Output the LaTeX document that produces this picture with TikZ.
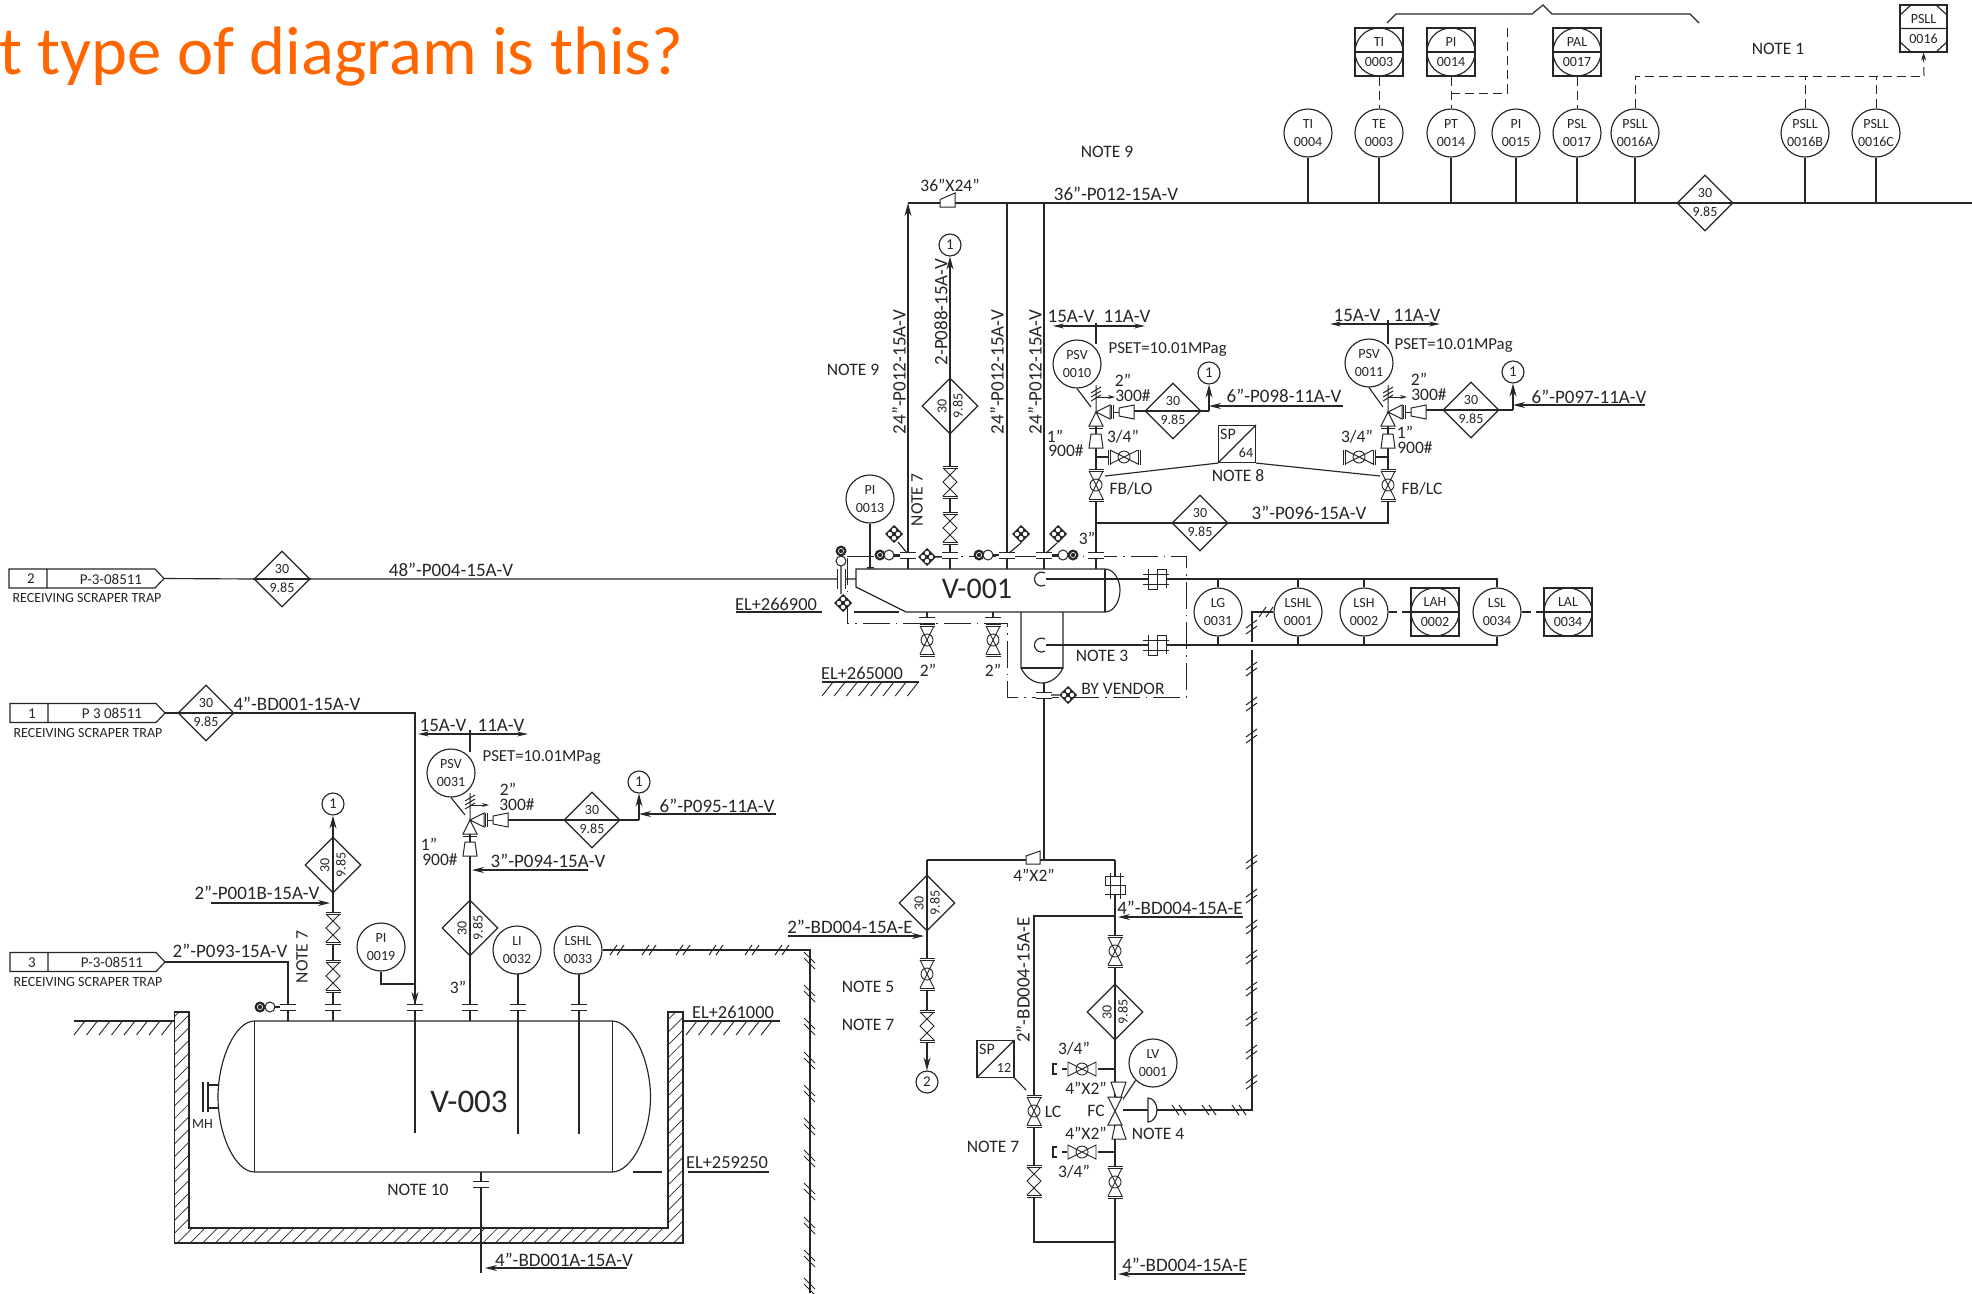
\documentclass[tikz,border=0pt]{standalone}
\usepackage{fontspec}
\setmainfont{Carlito}
\usetikzlibrary{arrows.meta,shapes.geometric,patterns.meta}
\definecolor{ink}{HTML}{262626}
\definecolor{titleor}{HTML}{FF6600}
\newcount\tcnt
\newcommand\T[3][]{\global\advance\tcnt by 1 \node[tx,#1] (t\the\tcnt) at (#2) {#3};}
\newcommand\DiaH[3]{\node[dmd] (#1) at (#2,#3) {};\draw (#1.west)--(#1.east);
  \T[font=\fontsize{14}{16}\selectfont]{#2,#3-10}{30}\T[font=\fontsize{14}{16}\selectfont]{#2,#3+9}{9.85}}
\newcommand\DiaV[3]{\node[dmd] (#1) at (#2,#3) {};\draw (#1.north)--(#1.south);
  \T[font=\fontsize{14}{16}\selectfont,rotate=90]{#2-8,#3}{30}\T[font=\fontsize{14}{16}\selectfont,rotate=90]{#2+8,#3}{9.85}}
\newcommand\PN[5]{\node[draw,fill=white,minimum size=48pt,inner sep=0pt] (#1) at (#2,#3) {};
  \node[draw,circle,minimum size=48pt,inner sep=0pt] (#1c) at (#2,#3) {};\draw (#1.west)--(#1.east);
  \T[font=\fontsize{14}{15}\selectfont]{#2,#3-10}{#4}\T[font=\fontsize{14}{15}\selectfont]{#2,#3+10}{#5}}
\newcommand\TG[6]{\draw[fill=white] (#2,#3)--(#2+146,#3)--(#2+155,#3+9.5)--(#2+146,#3+19)--(#2,#3+19)--cycle (#2+38,#3)--(#2+38,#3+19);
  \coordinate (#1) at (#2+155,#3+9.5);
  \T[font=\fontsize{15}{17}\selectfont]{#2+22,#3+10}{#4}\T[font=\fontsize{15}{17}\selectfont]{#2+102,#3+10}{#5}
  \T[font=\fontsize{14}{15}\selectfont]{#2+78,#3+29}{#6}}
\newcommand\GN[4]{\foreach \gi in {1,...,#3}{\draw[line width=.9pt] ({#1+(\gi-1)*#4},#2+14)--++(11,-14);}}
\tikzset{
  tx/.style={inner sep=0pt,text=ink,font=\fontsize{17.5}{20}\selectfont},
  pl/.style={font=\fontsize{19}{21}\selectfont},
  ps/.style={font=\fontsize{16.8}{20}\selectfont},
  dmd/.style={diamond,draw,fill=white,aspect=1,minimum width=56pt,minimum height=56pt,inner sep=0pt},
  bub/.style={circle,draw,fill=white,minimum size=48pt,inner sep=0pt,align=center,text=ink,font=\fontsize{14}{18}\selectfont},
  refc/.style={circle,draw,fill=white,minimum size=22pt,inner sep=0pt,text=ink,font=\fontsize{15}{17}\selectfont},
  sta/.style={-{Stealth[length=13pt,width=7pt]}},
  dashline/.style={dash pattern=on 9pt off 5pt,line width=1pt},
  ddot/.style={dash pattern=on 27pt off 6pt on 1.5pt off 6pt,line width=.9pt},
  vb/.pic={\fill[white] (-7,-16) rectangle (7,16);
    \draw[line width=.85pt] (-7.5,-16)--(7.5,-16) (-7.5,-14)--(7.5,-14) (-7.5,16)--(7.5,16) (-7.5,14)--(7.5,14);
    \draw[line width=.9pt] (-7,-14)--(7,14) (7,-14)--(-7,14) (0,0) circle[radius=6];},
  vp/.pic={\fill[white] (-7,-16) rectangle (7,16);
    \draw[line width=.85pt] (-7.5,-16)--(7.5,-16) (-7.5,-14)--(7.5,-14) (-7.5,16)--(7.5,16) (-7.5,14)--(7.5,14);
    \draw[line width=.9pt] (-7,-14)--(7,0)--(-7,14) (7,-14)--(-7,0)--(7,14);},
  hb/.pic={\fill[white] (-14,-7) rectangle (14,7);
    \draw[line width=.9pt] (-14,-7)--(14,7)--(14,-7)--(-14,7)--cycle (0,0) circle[radius=6];},
  fl/.pic={\fill[white] (-8,-3) rectangle (8,3);\draw[line width=1pt] (-8,-3)--(8,-3) (-8,3)--(8,3);},
  flv/.pic={\fill[white] (-3,-10) rectangle (5,10);\draw[line width=1pt] (-4,-10)--(-4,10) (4,-10)--(4,10);},
  cvalve/.pic={\fill[white] (-8,-14) rectangle (8,14);\draw[line width=1pt] (-7,-14)--(7,-14)--(-7,14)--(7,14)--cycle;},
  psvh/.pic={\draw[line width=1pt] (0,-27)--(0,0) (-5,-19)--(5,-25) (-5,-15)--(5,-21) (-5,-11)--(5,-17);
    \draw[-{Stealth[length=7pt,width=4pt]},line width=.9pt] (1,-15)--(19,-15);
    \draw[line width=1pt,fill=white] (0,0)--(-7,14)--(7,14)--cycle (0,0)--(14,-7)--(14,7)--cycle;
    \draw[line width=1pt] (-7,16)--(7,16) (15,-7)--(15,7) (17.5,-7)--(17.5,7) (17.5,0)--(23,0) (0,16)--(0,22);
    \draw[line width=1pt,fill=white] (23,-4)--(23,4)--(38,7)--(38,-7)--cycle (-5,22)--(5,22)--(7,36)--(-7,36)--cycle;},
  xd/.pic={\fill[ink] (0,-9)--(9,0)--(0,9)--(-9,0)--cycle;
    \foreach \a/\b in {0/-4,4/0,0/4,-4/0}{\fill[white] (\a,\b) circle[radius=2.2];}},
  oo/.pic={\fill[ink] (0,0) circle[radius=5.5];\draw[white,line width=.6pt] (0,0) circle[radius=2.6];},
  oe/.pic={\draw[line width=1pt,fill=white] (0,0) circle[radius=5];},
  dbl/.pic={\fill[white] (-9,-8) rectangle (9,8);
    \draw[line width=.9pt] (-14,-5)--(12,-5) (-14,5)--(12,5) (-9,-10)--(-9,10)--(0,10)--(0,-10)--(9,-10)--(9,9);},
  tv/.pic={\draw[line width=1pt] (-6,-4)--(5,7) (-6,-10)--(5,1);},
  tv2/.pic={\draw[line width=1pt] (-6,5)--(5,-3) (-6,11)--(5,3);},
  th/.pic={\draw[line width=1pt] (-8,5)--(-1,-5) (-1,5)--(6,-5);},
  tb/.pic={\draw[line width=1pt] (-6,-5)--(1,5) (1,-5)--(8,5);},
}
\begin{document}
\begin{tikzpicture}[x=1pt,y=-1pt,line width=1.15pt,draw=ink]
\useasboundingbox (0,0) rectangle (1972,1293);
\fill[white] (0,0) rectangle (1972,1293);
\T[font=\fontsize{68.5}{72}\selectfont,text=titleor,anchor=base east]{684,74}{t type of diagram is this?}

% ---- vessels and pit
\node[inner sep=0pt,text=ink,font=\fontsize{33}{36}\selectfont] (V3) at (469,1102) {V-003};
\fill[pattern={Lines[angle=45,distance=9pt,line width=.7pt]},pattern color=ink] (174.5,1012)--(174.5,1243)--(683,1243)--(683,1012)--(668,1012)--(668,1228)--(189,1228)--(189,1012)--cycle;
\draw (174.5,1012)--(174.5,1243)--(683,1243)--(683,1012)--(668,1012)--(668,1228)--(189,1228)--(189,1012)--cycle;
\draw (254.6,1021) .. controls (235,1021) and (218,1060) .. (218,1097) .. controls (218,1134) and (235,1172) .. (254.6,1172) -- (612,1172) .. controls (632,1172) and (650.5,1134) .. (650.5,1097) .. controls (650.5,1060) and (632,1021) .. (612,1021) -- cycle;
\draw[line width=1pt] (254.6,1021)--(254.6,1172) (612,1021)--(612,1172);
\draw (218,1085)--(208,1085)--(208,1108)--(218,1108) (203,1082)--(203,1112) (208,1082)--(208,1112);
\T[font=\fontsize{14}{16}\selectfont]{202.5,1124}{MH}

\draw[fill=white] (1021,612)--(1021,668) .. controls (1026,678) and (1034,683) .. (1042,683) .. controls (1050,683) and (1058,678) .. (1063,668) -- (1063,612);
\draw (1021,668)--(1063,668);
\draw[fill=white] (856,569)--(1105,569) .. controls (1114,569) and (1120,580) .. (1120,590) .. controls (1120,601) and (1114,612) .. (1105,612) -- (906,612) -- (856,587) -- cycle;
\draw (1105,569)--(1105,612);
\node[inner sep=0pt,text=ink,font=\fontsize{30}{34}\selectfont] (V1) at (977,589) {V-001};

% ---- dash-dot boundary
\draw[ddot] (847,556)--(1186,556)--(1186,697)--(1007,697)--(1007,623)--(847,623)--cycle;

% ---- nodes
\node[bub] (TI4) at (1308,133) {TI\\0004};
\node[bub] (TE3) at (1379,133) {TE\\0003};
\node[bub] (PT14) at (1451,133) {PT\\0014};
\node[bub] (PI15) at (1516,133) {PI\\0015};
\node[bub] (PSL17) at (1577,133) {PSL\\0017};
\node[bub] (PSLLa) at (1635,133) {PSLL\\0016A};
\node[bub] (PSLLb) at (1805,133) {PSLL\\0016B};
\node[bub] (PSLLc) at (1876,133) {PSLL\\0016C};
\PN{pTI}{1379}{52}{TI}{0003}
\PN{pPI}{1451}{52}{PI}{0014}
\PN{pPAL}{1577}{52}{PAL}{0017}
\node[draw,fill=white,minimum size=47pt,inner sep=0pt] (pPSLL) at (1923.5,28.5) {};
\draw (pPSLL.west)--(pPSLL.east) (1900,15)--(1911,5) (1936,5)--(1947,15) (1900,42)--(1911,52) (1936,52)--(1947,42);
\T[font=\fontsize{14}{15}\selectfont]{1923.5,19}{PSLL}\T[font=\fontsize{14}{15}\selectfont]{1923.5,39}{0016}
\DiaH{dHead}{1705}{203}
\DiaV{dP88}{950}{406}
\DiaV{dV3a}{333}{865}
\DiaV{dV3b}{470}{928}
\DiaV{dBD}{927}{903}
\DiaV{dLV}{1115}{1012}
\DiaH{dTag2}{282}{579}
\DiaH{dTag1}{206}{713}
\DiaH{dPSV10}{1173}{411}
\DiaH{dPSV11}{1471}{410}
\DiaH{dPSV31}{592}{820}
\DiaH{d96}{1200}{523}
\node[refc] (r88) at (950,245) {1};
\node[refc] (r10) at (1209,373) {1};
\node[refc] (r11) at (1513,372) {1};
\node[refc] (r31) at (639,782) {1};
\node[refc] (rV3) at (333,804) {1};
\node[refc] (r2) at (927,1082) {2};
\node[bub] (PI13) at (870,499) {PI\\0013};
\node[bub] (PSV10) at (1077,364) {PSV\\0010};
\node[bub] (PSV11) at (1369,363) {PSV\\0011};
\node[bub] (PSV31) at (451,773) {PSV\\0031};
\node[bub] (PI19) at (381,947) {PI\\0019};
\node[bub] (LI32) at (517,950) {LI\\0032};
\node[bub] (LSHL33) at (578,950) {LSHL\\0033};
\node[bub] (LV1) at (1153,1063) {LV\\0001};
\node[bub] (LG) at (1218,612) {LG\\0031};
\node[bub] (LSHL1) at (1298,612) {LSHL\\0001};
\node[bub] (LSH2) at (1364,612) {LSH\\0002};
\PN{pLAH}{1435}{612}{LAH}{0002}
\node[bub] (LSL) at (1497,612) {LSL\\0034};
\PN{pLAL}{1568}{612}{LAL}{0034}
\node[draw,minimum size=37pt,inner sep=0pt] (SP64) at (1237,444) {};
\node[draw,minimum size=37pt,inner sep=0pt] (SP12) at (995.5,1059) {};
\draw (SP64.south west)--(SP64.north east) (SP12.south west)--(SP12.north east);
\T[font=\fontsize{16}{18}\selectfont]{1228,434}{SP}\T[font=\fontsize{14}{16}\selectfont]{1246,453}{64}
\T[font=\fontsize{16}{18}\selectfont]{987,1049}{SP}\T[font=\fontsize{14}{16}\selectfont]{1004,1068}{12}

% ---- coordinates
\coordinate (hL) at (908,203);\coordinate (hR) at (1972,203);
\coordinate (h7) at (1007,203);\coordinate (h4) at (1044,203);
\coordinate (n9) at (908,569);\coordinate (n7) at (1007,569);\coordinate (n4) at (1044,569);
\coordinate (j10) at (1096,412);\coordinate (j11) at (1388,412);\coordinate (j31) at (470,820);
\coordinate (nP) at (950,569);\coordinate (n96) at (1096,569);\coordinate (jj96) at (1096,523);\coordinate (e96) at (1388,523);
\coordinate (inL) at (856,579);\coordinate (lev1) at (1046,579);\coordinate (lev2) at (1046,645);
\coordinate (cR) at (1115,860);\coordinate (cL) at (927,860);\coordinate (cM) at (1044,860);\coordinate (bootB) at (1044,683);

% ---- pipes
\TG{tg2}{9}{569}{2}{P-3-08511}{RECEIVING SCRAPER TRAP}
\TG{tg1}{10}{703.5}{1}{P 3 08511}{RECEIVING SCRAPER TRAP}
\TG{tg3}{10}{952.5}{3}{P-3-08511}{RECEIVING SCRAPER TRAP}
\draw (hL)--(dHead.west) (dHead.east)--(hR);
\draw[sta] (n9)--(hL);
\draw (h7)--(n7) (h4)--(n4);
\foreach \n in {TI4,TE3,PT14,PI15,PSL17,PSLLa,PSLLb,PSLLc}{\draw (\n.south)--(\n.south|-hL);}
\draw[dashline] (pTI.south)--(TE3.north);
\draw[dashline] (pPI.south)--(PT14.north);
\draw[dashline] (pPAL.south)--(PSL17.north);
\draw[dashline] (1451,93)--(1507,93)--(1507,23);
\draw (1387,23)--(1396,14)--(1532,14)--(1543,5)--(1552,14)--(1690,14)--(1699,23);
\draw[dashline] (PSLLa.north)--(1635,76)--(1924,76);
\draw[dashline] (PSLLb.north)--(1805,76);
\draw[dashline] (PSLLc.north)--(1876,76);
\draw[dashline,-{Stealth[length=8pt,width=5pt]}] (1924,76)--(pPSLL.south);
\draw (dP88.south)--(nP);
\draw[sta] (dP88.north)--(r88.south);
\draw (PI13.south)--(870,569);
\draw[line width=1pt] (867,569)--(867,567)--(873,567)--(873,569);
\draw (tg2)--(dTag2.west) (dTag2.east)--(837,579) (845,579)--(inL);
% PSV 10
\draw (j10)--(n96);
\draw (jj96)--(d96.west) (d96.east)--(e96)--(j11);
\draw (1134,411)--(dPSV10.west) (dPSV10.east)--(1209,411);
\draw[sta] (1209,411)--(r10.south);
\draw[-{Stealth[length=12pt,width=6pt]}] (1343,406)--(1209,406);
\draw (PSV10.south)--(1091,407);
\draw (1096,323)--(1096,344);
\draw[{Stealth[length=11pt,width=5pt]}-{Stealth[length=11pt,width=5pt]}] (1053,326)--(1145,326);
\draw (1096,457)--(1108,457);
\draw (1105,476)--(SP64.south west) (SP64.south east)--(1380,476);
% PSV 11
\draw (1426,410)--(dPSV11.west) (dPSV11.east)--(1513,410);
\draw[sta] (1513,410)--(r11.south);
\draw[-{Stealth[length=12pt,width=6pt]}] (1645,405)--(1513,405);
\draw (PSV11.south)--(1383,407);
\draw (1388,320)--(1388,344);
\draw[{Stealth[length=11pt,width=5pt]}-{Stealth[length=11pt,width=5pt]}] (1330,324)--(1440,324);
\draw (1388,457)--(1375,457);
% V-001 bottom and level piping
\draw (927,612)--(927,624) (993,612)--(993,624);
\draw (lev1)--(1497,579)--(LSL.north);
\draw (lev2)--(1497,645)--(LSL.south);
\draw (1045,573) arc[start angle=-60,end angle=-300,radius=7];
\draw (1045,639) arc[start angle=-60,end angle=-300,radius=7];
\foreach \n in {LG,LSHL1,LSH2}{\draw (\n.north)--(\n.north|-lev1) (\n.south)--(\n.south|-lev2);}
\draw (LSH2.east)--(1397,612) (1402,612)--(pLAH.west);
\draw (LSL.east)--(1531,612) (1536,612)--(pLAL.west);
\draw (bootB)--(cM);
\draw (cL)--(cR);
\draw (cR)--(1115,1280);
\draw (1115,916)--(1034,916)--(1034,1242)--(1115,1242);
\draw (cL)--(dBD.north) (dBD.south)--(927,1040);
\draw[sta] (927,1040)--(r2.north);
\draw (1115,970)--(dLV.north) (dLV.south)--(1115,1100);
\draw (1115,1069)--(1098,1069) (1115,1152)--(1098,1152);
\draw (1067,1069)--(1062,1069) (1067,1152)--(1062,1152);
\draw (1057,1064)--(1053,1064)--(1053,1074)--(1057,1074) (1057,1147)--(1053,1147)--(1053,1157)--(1057,1157);
\draw (LV1.south west)--(1115,1111);
\draw (SP12.south east)--(1026,1090);
\draw (1115,1110)--(1148,1110);
\draw[fill=white] (1148,1098) arc[start angle=-90,end angle=90,x radius=9,y radius=12] -- cycle;
\draw[-{Stealth[length=12pt,width=6pt]}] (1243,917)--(1118,917);
\draw[-{Stealth[length=12pt,width=6pt]}] (1245,1274)--(1118,1274);
\draw[-{Stealth[length=12pt,width=6pt]}] (788,936)--(924,936);
% V-003 piping
\draw (tg1)--(dTag1.west) (dTag1.east)--(415,713)--(415,1133);
\draw (tg3)--(288,962)--(288,1021);
\draw (518,974)--(518,1134) (579,974)--(579,1134);
\draw (333,1021)--(dV3a.south);
\draw[sta] (dV3a.north)--(rV3.south);
\draw[-{Stealth[length=12pt,width=6pt]}] (211,903)--(330,903);
\draw (PI19.south)--(381,984)--(415,984);
\draw[-{Stealth[length=13pt,width=7pt]},shorten >=0pt] (415,984)--(415,1005);
\draw (470,1021)--(dV3b.south) (dV3b.north)--(j31);
\draw (PSV31.south)--(465,815);
\draw (470,730)--(470,752);
\draw[{Stealth[length=11pt,width=5pt]}-{Stealth[length=11pt,width=5pt]}] (418,734)--(528,734);
\draw (508,820)--(dPSV31.west) (dPSV31.east)--(639,820);
\draw[sta] (639,820)--(r31.south);
\draw[-{Stealth[length=12pt,width=6pt]}] (776,814)--(639,814);
\draw[-{Stealth[length=12pt,width=6pt]}] (588,870)--(472,870);
\draw (481,1172)--(481,1273);
\draw[-{Stealth[length=12pt,width=6pt]}] (627,1268)--(485,1268);
% Signal cables
\draw (LSHL33.east)--(810,950)--(810,1293);
\draw (LSHL1.west)--(1252,612)--(1252,642) (1252,650)--(1252,1110)--(1157,1110);
% ground lines and elevations
\draw (74,1021)--(174.5,1021) (683,1021)--(780,1021);
\GN{74}{1021}{8}{12.5}
\GN{686}{1021}{7}{12.5}
\draw (822,682)--(919,682);
\GN{822}{682}{8}{12.2}
\draw (736,612)--(822,612) (854,612)--(899,612);
\draw (688,1172)--(769,1172) (633,1172)--(662,1172);

% ---- inline symbols
\foreach \xx/\yy in {908/555,950/555,1007/555,1044/555,1096/555,927/620,993/620,288/1007,333/1007,415/1007,470/1007,518/1007,579/1007,481/1184,1044/695}{\pic at (\xx,\yy) {fl};}
\pic at (841,579) {flv};
\pic at (950,482) {vp};\pic at (950,528) {vp};
\pic at (927,974) {vb};\pic at (927,1026) {vp};
\pic at (1115,951) {vb};\pic at (1115,1182) {vb};
\pic at (1034,1111) {vb};\pic at (1034,1181) {vp};
\pic at (333,928) {vp};\pic at (333,976) {vp};
\pic at (1096,485) {vb};\pic at (1388,485) {vb};
\pic at (927,640) {vb};\pic at (993,640) {vb};
\pic[rotate=90] at (1124,457) {vb};\pic[rotate=90] at (1359,457) {vb};
\pic at (1082,1069) {hb};\pic at (1082,1152) {hb};
\pic at (1115,1111) {cvalve};
\draw[line width=1pt,fill=white] (1111,1082)--(1126,1082)--(1121,1097)--(1116,1097)--cycle;
\draw[line width=1pt,fill=white] (1112,1139)--(1126,1139)--(1121,1125)--(1115,1125)--cycle;
\pic at (j10) {psvh};
\pic at (j11) {psvh};
\pic at (j31) {psvh};
\draw[line width=1pt,fill=white] (1026,856)--(1040,851)--(1040,864)--(1026,864)--cycle;
\draw[line width=1pt,fill=white] (940,199.5)--(955,193)--(955,207)--(940,207)--cycle;
\pic at (1157,579) {dbl};\pic at (1157,645) {dbl};
\pic[rotate=90] at (1115,885) {dbl};
\foreach \xx/\yy in {894/534,927/557,1021/534,1058/534,843/603,1068/695}{\pic at (\xx,\yy) {xd};}
\draw (898,542)--(907,553) (936,557)--(942,557) (1021,543)--(1009,553) (1057,543)--(1046,553) (841,566)--(841,594) (1051,695)--(1059,695);
\draw (894,555)--(900,555) (993,555)--(999,555) (1058,555)--(1052,555);
\pic at (880,555) {oo};\pic at (889,555) {oe};
\pic at (979,555) {oo};\pic at (988,555) {oe};
\pic at (1073,555) {oo};\pic at (1063,555) {oe};
\pic at (841,551) {oo};\pic at (841,561) {oe};
\pic at (260,1007) {oo};\pic at (270,1007) {oe};\draw (275,1007)--(280,1007);
\foreach \yy in {623,665,700,732,858,892,923,953,985,1015,1048,1078}{\pic at (1252,\yy) {tv2};}
\pic at (1267,612) {th};
\foreach \xx in {1178,1208,1238}{\pic at (\xx,1110) {tb};}
\foreach \xx in {618,650,684,717,753,783}{\pic at (\xx,950) {th};}
\foreach \yy in {962,995,1028,1062,1095,1128,1160,1193,1227,1260,1288}{\pic at (810,\yy) {tv};}

% ---- labels
\T{950,185}{36"X24"}
\T[pl]{1116,194}{36"-P012-15A-V}
\T{1107,152}{NOTE 9}
\T{1778,49}{NOTE 1}
\T{853,370}{NOTE 9}
\T[pl,rotate=90]{899,372}{24"-P012-15A-V}
\T[pl,rotate=90]{997,372}{24"-P012-15A-V}
\T[pl,rotate=90]{1035,372}{24"-P012-15A-V}
\T[pl,rotate=90]{941,312}{2-P088-15A-V}
\T[rotate=90]{917,500}{NOTE 7}
\T[pl]{1071,316}{15A-V}\T[pl]{1127,316}{11A-V}
\T[ps,anchor=west]{1108,349}{PSET=10.01MPag}
\T{1123,380}{2"}\T{1133,396}{300\#}
\T{1123,437}{3/4"}\T{1055,436}{1"}\T{1066,451}{900\#}
\T{1131,489}{FB/LO}
\T[pl]{1284,396}{6"-P098-11A-V}
\T{1238,476}{NOTE 8}
\T[pl]{1309,513}{3"-P096-15A-V}
\T{1087,538}{3"}
\T[pl]{1357,315}{15A-V}\T[pl]{1417,315}{11A-V}
\T[ps,anchor=west]{1394,345}{PSET=10.01MPag}
\T{1419,379}{2"}\T{1429,395}{300\#}
\T{1357,437}{3/4"}\T{1405,432}{1"}\T{1415,448}{900\#}
\T{1422,489}{FB/LC}
\T[pl]{1589,397}{6"-P097-11A-V}
\T[pl]{451,570}{48"-P004-15A-V}
\T[font=\fontsize{18.4}{20}\selectfont]{776,604}{EL+266900}
\T[font=\fontsize{18.4}{20}\selectfont]{862,673}{EL+265000}
\T{928,670}{2"}\T{993,670}{2"}
\T{1102,656}{NOTE 3}
\T{1123,689}{BY VENDOR}
\T[pl]{297,704}{4"-BD001-15A-V}
\T[pl]{443,725}{15A-V}\T[pl]{501,725}{11A-V}
\T[ps,anchor=west]{482,757}{PSET=10.01MPag}
\T{508,789}{2"}\T{517,805}{300\#}
\T[pl]{717,806}{6"-P095-11A-V}
\T[pl]{548,861}{3"-P094-15A-V}
\T{429,844}{1"}\T{440,860}{900\#}
\T{458,987}{3"}
\T[pl]{257,893}{2"-P001B-15A-V}
\T[pl]{230,951}{2"-P093-15A-V}
\T[rotate=90]{302,957}{NOTE 7}
\T[font=\fontsize{18.4}{20}\selectfont]{733,1012}{EL+261000}
\T[font=\fontsize{18.4}{20}\selectfont]{727,1163}{EL+259250}
\T{418,1190}{NOTE 10}
\T[pl]{564,1260}{4"-BD001A-15A-V}
\T[pl]{850,927}{2"-BD004-15A-E}
\T{868,987}{NOTE 5}
\T{868,1025}{NOTE 7}
\T{1034,875}{4"X2"}
\T[pl]{1180,908}{4"-BD004-15A-E}
\T[pl]{1185,1265}{4"-BD004-15A-E}
\T[pl,rotate=90]{1023,980}{2"-BD004-15A-E}
\T{1053,1112}{LC}
\T{993,1147}{NOTE 7}
\T{1096,1111}{FC}
\T{1086,1088}{4"X2"}
\T{1086,1133}{4"X2"}
\T{1158,1134}{NOTE 4}
\T{1074,1049}{3/4"}
\T{1074,1172}{3/4"}
\end{tikzpicture}
\end{document}
